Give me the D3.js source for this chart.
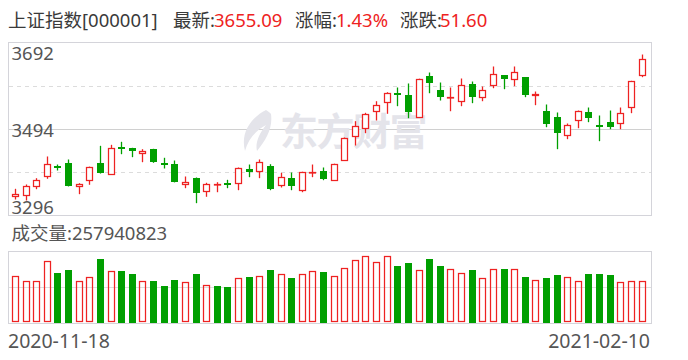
<!DOCTYPE html>
<html><head><meta charset="utf-8">
<script src="https://cdn.jsdelivr.net/npm/d3@7"></script>
<style>body{margin:0;background:#fff}svg{display:block}</style>
</head><body>
<svg id="c" width="688" height="360"></svg>
<script>
// ---------- data ----------
const dates = [
 "2020-11-18","2020-11-19","2020-11-20","2020-11-23","2020-11-24","2020-11-25","2020-11-26","2020-11-27","2020-11-30",
 "2020-12-01","2020-12-02","2020-12-03","2020-12-04","2020-12-07","2020-12-08","2020-12-09","2020-12-10","2020-12-11",
 "2020-12-14","2020-12-15","2020-12-16","2020-12-17","2020-12-18","2020-12-21","2020-12-22","2020-12-23","2020-12-24",
 "2020-12-25","2020-12-28","2020-12-29","2020-12-30","2020-12-31",
 "2021-01-04","2021-01-05","2021-01-06","2021-01-07","2021-01-08","2021-01-11","2021-01-12","2021-01-13","2021-01-14",
 "2021-01-15","2021-01-18","2021-01-19","2021-01-20","2021-01-21","2021-01-22","2021-01-25","2021-01-26","2021-01-27",
 "2021-01-28","2021-01-29","2021-02-01","2021-02-02","2021-02-03","2021-02-04","2021-02-05","2021-02-08","2021-02-09","2021-02-10"
];
const open  = [3338.8,3341.1,3361.7,3384.6,3408.2,3416.6,3361.7,3375.4,3416.6,3389.2,3453.9,3449.4,3437.2,3447.1,3417.3,3414.3,3366.3,3380.7,3349.3,3365.4,
               3371.5,3368.6,3401.3,3396.0,3409.8,3364.0,3380.7,3352.5,3395.1,3399.0,3375.4,3421.2,3476.1,3494.5,3533.4,3554.0,3577.5,3570.7,3519.6,3614.2,
               3583.7,3564.5,3555.3,3595.9,3565.4,3592.0,3616.5,3606.6,3611.9,3569.1,3534.1,3522.6,3478.4,3512.8,3531.8,3504.3,3508.9,3505.9,3542.5,3615.8];
const close = [3345.7,3362.4,3377.7,3414.3,3403.6,3363.1,3368.6,3407.5,3392.8,3451.0,3450.1,3443.2,3444.1,3418.0,3411.1,3372.2,3373.1,3347.0,3368.6,3367.0,
               3366.5,3403.6,3395.1,3418.9,3356.2,3383.0,3364.0,3396.0,3396.7,3379.1,3414.3,3472.3,3501.3,3528.8,3549.4,3576.9,3571.4,3532.5,3608.9,3598.8,
               3566.8,3567.5,3595.2,3566.8,3583.7,3620.4,3608.0,3624.9,3571.4,3573.0,3505.0,3484.4,3503.6,3534.1,3518.7,3502.7,3498.1,3531.1,3603.5,3655.1];
const high  = [3357.1,3367.0,3381.4,3431.1,3412.7,3424.2,3369.9,3407.9,3455.5,3457.8,3464.7,3451.0,3447.8,3448.7,3428.1,3421.9,3385.3,3383.0,3370.9,3372.2,
               3377.7,3405.9,3412.7,3424.2,3413.4,3393.7,3394.4,3396.2,3412.7,3405.9,3414.6,3474.5,3511.9,3531.1,3557.6,3578.2,3589.0,3598.2,3609.2,3623.3,
               3600.4,3589.0,3609.6,3602.7,3591.3,3637.1,3616.9,3637.1,3612.2,3579.8,3550.1,3531.8,3506.6,3536.3,3543.2,3524.9,3536.3,3543.2,3604.3,3664.5];
const low   = [3332.6,3330.3,3356.2,3380.0,3399.0,3362.5,3344.8,3366.3,3392.0,3389.0,3436.3,3429.5,3418.0,3416.6,3403.6,3371.8,3358.5,3324.2,3338.8,3349.3,
               3358.5,3353.9,3383.7,3381.4,3353.9,3360.1,3353.9,3349.3,3383.7,3376.8,3375.0,3421.0,3456.2,3484.4,3513.5,3528.8,3546.2,3518.7,3519.3,3575.9,
               3559.2,3534.7,3546.2,3553.1,3557.6,3587.4,3585.1,3592.0,3566.8,3548.5,3498.1,3447.8,3470.7,3495.8,3509.6,3466.1,3493.5,3493.5,3530.2,3612.6];
// volume in millions
const volume = [289,258,264,383,310,329,258,283,398,321,322,304,258,260,228,266,252,304,239,228,
                222,277,285,289,329,302,279,302,321,316,295,339,389,414,377,414,354,372,327,398,
                354,333,308,329,277,333,335,333,285,270,279,297,283,264,304,304,297,252,258,257.94];
const priceTicks = [3296, 3494, 3692];
const gridTicks = [3395, 3494, 3593];
const header = {name:"上证指数[000001]", latest:"3655.09", pct:"1.43%", chg:"51.60", vol:"257940823"};

// ---------- drawing ----------
const svg = d3.select("#c");
const FONT = '"Noto Sans","Noto Sans CJK SC",sans-serif';
const RED = "#ee2222", GREEN = "#009f00", TXT = "#3a3a3a", AX = "#555", BORDER = "#d4d4da";

const x  = d3.scalePoint().domain(dates).range([15, 641.6]);
const y  = d3.scaleLinear().domain([3296, 3692]).range([215.5, 42.5]);
const yv = d3.scaleLinear().domain([0, 443]).range([323, 251.7]);

// header
const hd = svg.append("g").attr("font-family", FONT).attr("font-size", 18.5);
hd.append("text").attr("x", 8).attr("y", 27).attr("fill", TXT).text(header.name);
hd.append("text").attr("x", 173).attr("y", 27).attr("fill", TXT).text("最新:");
hd.append("text").attr("x", 214).attr("y", 27).attr("fill", RED).text(header.latest);
hd.append("text").attr("x", 295).attr("y", 27).attr("fill", TXT).text("涨幅:");
hd.append("text").attr("x", 336).attr("y", 27).attr("fill", RED).text(header.pct);
hd.append("text").attr("x", 400).attr("y", 27).attr("fill", TXT).text("涨跌:");
hd.append("text").attr("x", 440).attr("y", 27).attr("fill", RED).text(header.chg);

// price panel
const pg = svg.append("g");
pg.append("rect").attr("x", 8.5).attr("y", 42.5).attr("width", 643).attr("height", 173)
  .attr("fill", "none").attr("stroke", BORDER);
gridTicks.forEach(t => {
  const yy = Math.round(y(t)) + 0.5;
  pg.append("line").attr("x1", 9).attr("x2", 651).attr("y1", yy).attr("y2", yy)
    .attr("stroke", t === 3494 ? "#d0d0d0" : "#dcdcdc")
    .attr("stroke-dasharray", t === 3494 ? null : "4,4");
});

// watermark
const wm = pg.append("g").attr("fill", "#e4e4ea");
wm.append("path").attr("d",
  "M266,110 C252,117 240,132 245,151 C248,140 255,131 266,125 C259,134 255,143 257,151 C266,140 273,128 271,114 C270,113 268,111 266,110 Z");
wm.append("text").attr("x", 280).attr("y", 145).attr("font-family", '"Noto Sans CJK SC",sans-serif')
  .attr("font-weight", 700).attr("font-size", 38).attr("letter-spacing", -1.5).text("东方财富");

// axis labels
const ax = pg.append("g").attr("font-family", FONT).attr("font-size", 18.5).attr("fill", AX);
const offs = {3692: 17.5, 3494: 8, 3296: -1.5};
priceTicks.forEach(t => ax.append("text").attr("x", 11.5).attr("y", y(t) + offs[t]).text(t));

// candles
const isUp = i => close[i] > open[i] || (close[i] === open[i] && (i === 0 || close[i] >= close[i - 1]));
const cg = pg.append("g");
dates.forEach((d, i) => {
  const cx = Math.round(x(d));
  const col = isUp(i) ? RED : GREEN;
  cg.append("line").attr("x1", cx + 0.5).attr("x2", cx + 0.5)
    .attr("y1", y(high[i])).attr("y2", y(low[i])).attr("stroke", col).attr("stroke-width", 1.3);
  const top = Math.round(y(Math.max(open[i], close[i])));
  const bot = Math.round(y(Math.min(open[i], close[i])));
  if (isUp(i)) {
    cg.append("rect").attr("x", cx - 2.5).attr("y", top + 0.5).attr("width", 6)
      .attr("height", Math.max(bot - top - 1, 0.5)).attr("fill", "#fff").attr("stroke", col).attr("stroke-width", 1.25);
  } else {
    cg.append("rect").attr("x", cx - 3).attr("y", top).attr("width", 7)
      .attr("height", Math.max(bot - top, 2)).attr("fill", col);
  }
});

// volume panel
const vg = svg.append("g");
vg.append("text").attr("x", 11.5).attr("y", 240).attr("font-family", FONT).attr("font-size", 18.5)
  .attr("fill", AX).text("成交量:" + header.vol);
vg.append("rect").attr("x", 8.5).attr("y", 251.5).attr("width", 643).attr("height", 72)
  .attr("fill", "none").attr("stroke", BORDER);
vg.append("line").attr("x1", 9).attr("x2", 651).attr("y1", 287.5).attr("y2", 287.5).attr("stroke", "#dedede");
dates.forEach((d, i) => {
  const cx = Math.round(x(d));
  const up = i === 0 || close[i] >= close[i - 1];
  const t = Math.round(yv(volume[i]));
  if (up) {
    vg.append("rect").attr("x", cx - 2.5).attr("y", t + 0.5).attr("width", 6).attr("height", 322 - t - 0.5 - 0.5)
      .attr("fill", "none").attr("stroke", RED).attr("stroke-width", 1.25);
  } else {
    vg.append("rect").attr("x", cx - 3).attr("y", t).attr("width", 7).attr("height", 323 - t).attr("fill", GREEN);
  }
});

// date labels
const dl = svg.append("g").attr("font-family", FONT).attr("font-size", 19.5).attr("fill", AX);
dl.append("text").attr("x", 8).attr("y", 348).text(dates[0]);
dl.append("text").attr("x", 650).attr("y", 348).attr("text-anchor", "end").text(dates[dates.length - 1]);
</script>
</body></html>
